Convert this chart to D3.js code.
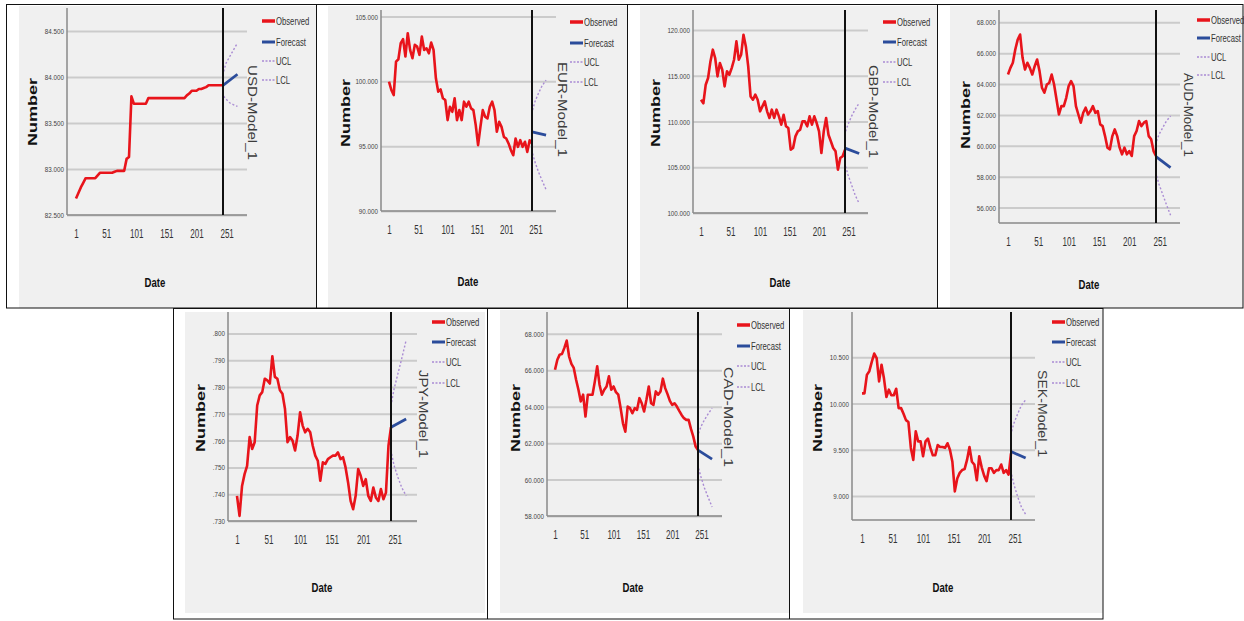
<!DOCTYPE html>
<html><head><meta charset="utf-8">
<script src="https://cdn.jsdelivr.net/npm/d3@7"></script>
<style>
html,body{margin:0;padding:0;background:#fff;}
svg{display:block;}
text{font-family:"Liberation Sans", Arial, sans-serif;}
</style></head><body>
<svg id="c" width="1244" height="621"></svg>
<script>
// ---------- DATA ----------
const obsDates = [1,5,9,13,17,21,25,29,33,37,41,45,49,53,57,61,65,69,73,77,81,85,89,93,97,101,105,109,113,117,121,125,129,133,137,141,145,149,153,157,161,165,169,173,177,181,185,189,193,197,201,205,209,213,217,221,225,229,233,237,241,245];
const fcDates = [245, 269];
const ciDates = [246, 250, 256, 262, 269];
const xTickValues = [1, 51, 101, 151, 201, 251];
const legendLabels = ["Observed", "Forecast", "UCL", "LCL"];

const usdObs = [82.68,82.74,82.80,82.85,82.90,82.90,82.90,82.90,82.90,82.93,82.96,82.96,82.96,82.96,82.96,82.96,82.97,82.98,82.98,82.98,82.98,83.11,83.13,
  83.79,83.71,83.71,83.71,83.71,83.71,83.71,
  83.77,83.77,83.77,83.77,83.77,83.77,83.77,83.77,83.77,83.77,83.77,83.77,83.77,83.77,83.77,83.77,
  83.80,83.82,83.85,83.85,83.85,83.87,83.87,83.88,83.89,
  83.91,83.91,83.91,83.91,83.91,83.91,83.91];
const usdFc = [83.91, 84.03];
const usdUcl = [84.06, 84.15, 84.22, 84.29, 84.37];
const usdLcl = [83.79, 83.76, 83.72, 83.70, 83.68];
const usdTicks = [82.5, 83, 83.5, 84, 84.5];

const eurObs = [99.97,99.33,98.94,101.52,101.70,102.94,103.25,101.91,103.71,102.42,
  101.78,102.81,102.68,102.04,103.45,102.42,102.55,102.16,102.99,102.42,
  100.23,99.20,99.38,98.69,98.56,97.01,98.04,97.65,98.69,97.01,
  97.78,97.01,98.43,98.04,98.43,97.91,97.78,96.62,95.08,96.49,
  97.78,97.27,97.14,98.04,98.43,97.78,96.11,96.88,96.49,95.72,
  95.59,95.21,94.69,94.30,95.59,94.95,95.46,94.95,95.34,94.56,
  95.46,95.21];
const eurFc = [96.10, 95.86];
const eurUcl = [97.78, 98.43, 99.07, 99.64, 100.10];
const eurLcl = [94.43, 93.79, 93.02, 92.37, 91.65];
const eurTicks = [90, 95, 100, 105];

const gbpObs = [112.39,112.00,114.03,114.76,116.58,117.86,116.95,114.94,116.40,115.67,
  113.85,115.49,115.12,115.85,116.76,118.77,116.76,117.31,119.50,118.22,
  116.03,112.75,112.39,112.94,112.39,111.12,111.66,112.21,111.12,110.39,
  111.30,110.39,111.30,110.57,109.66,110.75,109.48,109.29,106.92,107.11,
  108.38,108.93,109.11,110.02,110.02,109.48,110.57,109.66,110.57,109.84,
  108.93,106.56,108.93,110.39,108.56,107.84,107.11,106.74,104.74,106.01,
  106.20,106.92];
const gbpFc = [107.10, 106.50];
const gbpUcl = [108.93, 109.66, 110.57, 111.30, 112.03];
const gbpLcl = [105.10, 104.19, 103.10, 102.00, 101.02];
const gbpTicks = [100, 105, 110, 115, 120];

const audObs = [64.62,65.05,65.38,66.24,66.88,67.21,65.70,64.94,65.38,65.05,
  64.62,65.16,65.59,64.84,63.76,63.44,63.97,64.08,64.62,63.97,
  63.00,62.03,62.57,62.57,63.11,63.87,64.19,63.87,62.57,62.03,
  61.50,62.14,62.47,62.03,62.25,62.57,62.14,62.25,61.39,61.28,
  60.63,59.88,59.77,60.63,61.06,60.63,59.88,59.45,59.88,59.45,
  59.66,59.34,60.63,60.96,61.60,61.28,61.50,61.60,60.63,60.42,
  59.66,59.34];
const audFc = [59.30, 58.59];
const audUcl = [60.31, 60.74, 61.17, 61.60, 61.93];
const audLcl = [58.05, 57.51, 56.86, 56.22, 55.50];
const audTicks = [56, 58, 60, 62, 64, 66, 68];

const jpyObs = [.7394,.7319,.7431,.7475,.7506,.7613,.7569,.7594,.7731,.7769,
  .7781,.7831,.7825,.7813,.7915,.7838,.7831,.7788,.7775,.7719,
  .7594,.7613,.7600,.7563,.7619,.7706,.7656,.7631,.7644,.7631,
  .7581,.7544,.7525,.7450,.7519,.7513,.7531,.7538,.7544,.7544,
  .7556,.7531,.7538,.7500,.7444,.7375,.7344,.7394,.7494,.7469,
  .7431,.7456,.7394,.7375,.7425,.7388,.7375,.7419,.7381,.7406,
  .7581,.7650];
const jpyFc = [.7650, .7681];
const jpyUcl = [.7744, .7794, .7850, .7906, .7975];
const jpyLcl = [.7550, .7506, .7463, .7425, .7394];
const jpyTicks = [.73, .74, .75, .76, .77, .78, .79, .80];

const cadObs = [66.03,66.58,66.86,66.90,67.23,67.63,66.77,66.35,66.13,65.48,
  64.93,64.29,64.66,63.46,64.66,64.66,64.66,65.39,66.22,65.21,
  64.66,64.93,65.11,65.67,64.93,65.11,64.80,64.66,63.92,63.09,
  62.63,64.01,63.92,63.64,63.92,63.83,64.47,64.19,63.74,64.38,
  65.11,64.19,64.10,64.84,64.66,64.84,65.54,65.02,64.69,64.32,
  64.10,64.19,64.01,63.77,63.55,63.37,63.28,63.28,62.78,62.36,
  61.81,61.62];
const cadFc = [61.62, 61.12];
const cadUcl = [62.54, 62.91, 63.28, 63.59, 63.92];
const cadLcl = [60.61, 60.15, 59.54, 59.05, 58.50];
const cadTicks = [58, 60, 62, 64, 66, 68];

const sekObs = [10.11,10.11,10.31,10.35,10.45,10.54,10.49,10.24,10.42,10.27,
  10.07,10.15,10.09,10.09,10.16,9.95,9.95,9.89,9.82,9.80,
  9.52,9.39,9.70,9.59,9.59,9.43,9.59,9.62,9.52,9.44,
  9.44,9.55,9.53,9.53,9.52,9.57,9.50,9.37,9.05,9.19,
  9.25,9.28,9.29,9.39,9.53,9.37,9.34,9.17,9.43,9.31,
  9.22,9.16,9.30,9.30,9.25,9.28,9.28,9.34,9.25,9.28,
  9.23,9.46];
const sekFc = [9.48, 9.41];
const sekUcl = [9.70, 9.79, 9.89, 9.98, 10.04];
const sekLcl = [9.23, 9.12, 8.99, 8.88, 8.80];
const sekTicks = [9, 9.5, 10, 10.5];

// ---------- LAYOUT ----------
const panels = [
  {model:"USD-Model_1", obs:usdObs, fc:usdFc, ucl:usdUcl, lcl:usdLcl, ticks:usdTicks, dom:[82.5,84.75],
   bg:[19,6,316,308], ax:[67,247,8,215], xs:[76,223], num:[32,112], date:[155,283], mdl:[252,65,95], leg:[262,[21,42,61,80]]},
  {model:"EUR-Model_1", obs:eurObs, fc:eurFc, ucl:eurUcl, lcl:eurLcl, ticks:eurTicks, dom:[90,105.5],
   bg:[328,6,627,308], ax:[381,556,10,211], xs:[389,532], num:[345,113], date:[468,282], mdl:[562,62,95], leg:[570,[22,43,62,82]]},
  {model:"GBP-Model_1", obs:gbpObs, fc:gbpFc, ucl:gbpUcl, lcl:gbpLcl, ticks:gbpTicks, dom:[100,122.2],
   bg:[640,6,937,308], ax:[693,868,10,213], xs:[701,845], num:[655,113], date:[780,283], mdl:[873,65,93], leg:[883,[22,42,62,82]]},
  {model:"AUD-Model_1", obs:audObs, fc:audFc, ucl:audUcl, lcl:audLcl, ticks:audTicks, dom:[55,68.8],
   bg:[950,6,1243,308], ax:[999,1180,10,223], xs:[1008,1156], num:[965,115], date:[1089,285], mdl:[1188,73,84], leg:[1197,[20,38,57,75]]},
  {model:"JPY-Model_1", obs:jpyObs, fc:jpyFc, ucl:jpyUcl, lcl:jpyLcl, ticks:jpyTicks, dom:[.73,.808], fmt:"jpy",
   bg:[185,312,485,613], ax:[228,417,312,521], xs:[237,391], num:[200,418], date:[322,588], mdl:[423,370,88], leg:[432,[322,342,362,383]]},
  {model:"CAD-Model_1", obs:cadObs, fc:cadFc, ucl:cadUcl, lcl:cadLcl, ticks:cadTicks, dom:[58,69.2],
   bg:[500,310,789,613], ax:[547,722,312,516], xs:[555,698], num:[515,418], date:[633,588], mdl:[728,367,100], leg:[737,[325,346,366,387]]},
  {model:"SEK-Model_1", obs:sekObs, fc:sekFc, ucl:sekUcl, lcl:sekLcl, ticks:sekTicks, dom:[8.74,10.99],
   bg:[803,310,1103,613], ax:[852,1035,312,520], xs:[862,1011], num:[817,418], date:[943,588], mdl:[1042,370,87], leg:[1052,[322,342,362,383]]}
];

const RED = "#e8141b", BLUE = "#2b4c9b", PURPLE = "#a98bd3";
const svg = d3.select("#c");

// backgrounds
panels.forEach(p => {
  svg.append("rect").attr("x", p.bg[0]).attr("y", p.bg[1])
    .attr("width", p.bg[2]-p.bg[0]).attr("height", p.bg[3]-p.bg[1]).attr("fill", "#f0f0f0");
});

// table borders
const bord = svg.append("g").attr("stroke", "#111").attr("stroke-width", 1).attr("fill", "none");
bord.append("rect").attr("x", 6.5).attr("y", 4.5).attr("width", 1236.5).attr("height", 303.5);
[316.5, 627.5, 937.5].forEach(x => bord.append("line").attr("x1", x).attr("x2", x).attr("y1", 4.5).attr("y2", 308));
bord.append("rect").attr("x", 173.5).attr("y", 308.5).attr("width", 929.5).attr("height", 310.5);
[487.5, 789.5].forEach(x => bord.append("line").attr("x1", x).attr("x2", x).attr("y1", 308).attr("y2", 619));

panels.forEach(p => {
  const g = svg.append("g");
  const [ax0, ax1, ayT, ayB] = p.ax;
  const x = d3.scaleLinear().domain([1, 245]).range(p.xs);
  const y = d3.scaleLinear().domain(p.dom).range([ayB, ayT]);
  const fmt = p.fmt === "jpy" ? (d => d3.format(".3f")(d).replace(/^0/, "")) : d3.format(".3f");

  // grid
  const grid = g.append("g").attr("transform", `translate(${ax0},0)`)
    .call(d3.axisLeft(y).tickValues(p.ticks).tickSize(-(ax1-ax0)).tickFormat(""));
  grid.select(".domain").remove();
  grid.selectAll("line").attr("stroke", "#cbcbcb").attr("stroke-width", 2);

  // y axis labels
  const ya = g.append("g").attr("transform", `translate(${ax0},0)`)
    .call(d3.axisLeft(y).tickValues(p.ticks).tickSize(0).tickPadding(4).tickFormat(fmt));
  ya.select(".domain").remove();
  ya.selectAll("text").attr("font-size", 8).attr("fill", "#444")
    .attr("font-family", "'Liberation Sans', Arial, sans-serif")
    .attr("transform", "scale(0.78,1)");

  // x axis labels
  const xa = g.append("g").attr("transform", `translate(0,${ayB})`)
    .call(d3.axisBottom(x).tickValues(xTickValues).tickSize(0).tickPadding(14).tickFormat(d3.format("d")));
  xa.select(".domain").remove();
  xa.selectAll("text").attr("font-size", 13).attr("fill", "#333")
    .attr("font-family", "'Liberation Sans', Arial, sans-serif")
    .attr("transform", "scale(0.62,1)");

  // axis lines
  g.append("line").attr("x1", ax0).attr("x2", ax0).attr("y1", ayT).attr("y2", ayB)
    .attr("stroke", "#8a8a8a").attr("stroke-width", 1.5);
  g.append("line").attr("x1", ax0).attr("x2", ax1).attr("y1", ayB).attr("y2", ayB)
    .attr("stroke", "#8a8a8a").attr("stroke-width", 1.5);

  // series
  const line = d3.line().x(d => x(d[0])).y(d => y(d[1]));
  g.append("path").attr("d", line(d3.zip(obsDates, p.obs)))
    .attr("fill", "none").attr("stroke", RED).attr("stroke-width", 2.6).attr("stroke-linejoin", "round");
  g.append("path").attr("d", line(d3.zip(ciDates, p.ucl)))
    .attr("fill", "none").attr("stroke", PURPLE).attr("stroke-width", 1.4).attr("stroke-dasharray", "2,2");
  g.append("path").attr("d", line(d3.zip(ciDates, p.lcl)))
    .attr("fill", "none").attr("stroke", PURPLE).attr("stroke-width", 1.4).attr("stroke-dasharray", "2,2");
  g.append("path").attr("d", line(d3.zip(fcDates, p.fc)))
    .attr("fill", "none").attr("stroke", BLUE).attr("stroke-width", 2.8);

  // vertical forecast origin line
  g.append("line").attr("x1", x(245)).attr("x2", x(245)).attr("y1", ayT).attr("y2", ayB)
    .attr("stroke", "#111").attr("stroke-width", 2);

  // axis titles
  g.append("text").attr("transform", `translate(${p.num[0]},${p.num[1]}) rotate(-90)`)
    .attr("text-anchor", "middle").attr("dy", "0.35em").attr("font-size", 13).attr("font-weight", "bold")
    .attr("textLength", 68).attr("lengthAdjust", "spacingAndGlyphs").attr("fill", "#111").text("Number");
  g.append("text").attr("transform", `translate(${p.date[0]},${p.date[1]}) scale(0.8,1)`)
    .attr("text-anchor", "middle").attr("dy", "0.35em").attr("font-size", 12).attr("font-weight", "bold")
    .attr("fill", "#111").text("Date");
  g.append("text").attr("transform", `translate(${p.mdl[0]},${p.mdl[1]}) rotate(90)`)
    .attr("dy", "0.35em").attr("font-size", 12).attr("fill", "#3c3c3c")
    .attr("textLength", p.mdl[2]).attr("lengthAdjust", "spacingAndGlyphs").text(p.model);

  // legend
  const lx = p.leg[0];
  const styles = [
    {c: RED, w: 3.5, dash: null},
    {c: BLUE, w: 3, dash: null},
    {c: PURPLE, w: 1.4, dash: "2,1.5"},
    {c: PURPLE, w: 1.4, dash: "2,1.5"}
  ];
  legendLabels.forEach((lab, i) => {
    const ly = p.leg[1][i];
    const s = styles[i];
    const ln = g.append("line").attr("x1", lx).attr("x2", lx + 13).attr("y1", ly).attr("y2", ly)
      .attr("stroke", s.c).attr("stroke-width", s.w);
    if (s.dash) ln.attr("stroke-dasharray", s.dash);
    g.append("text").attr("transform", `translate(${lx + 14},${ly}) scale(0.7,1)`)
      .attr("dy", "0.35em").attr("font-size", 11).attr("fill", "#333").text(lab);
  });
});
</script>
</body></html>
